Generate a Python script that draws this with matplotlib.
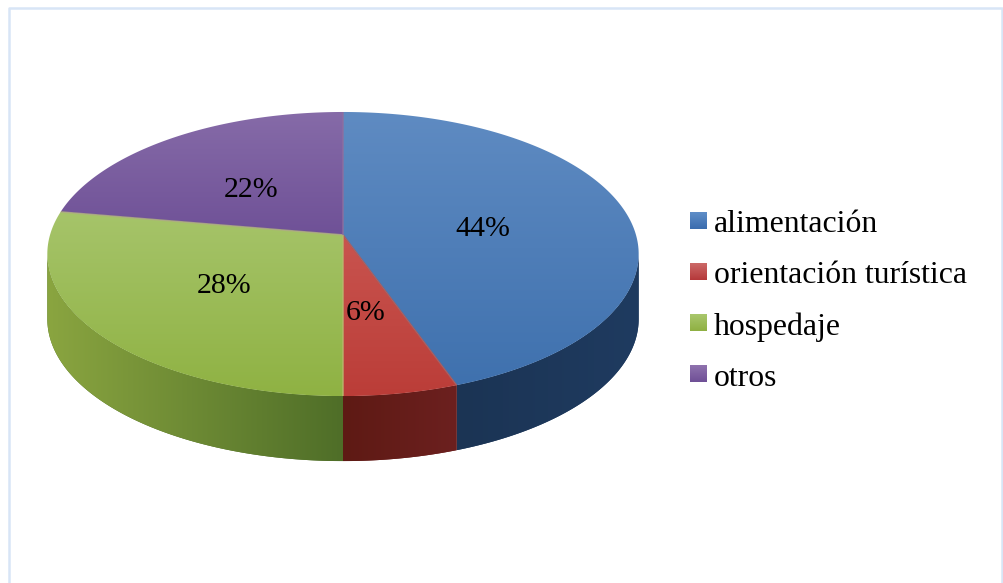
import numpy as np
import matplotlib
matplotlib.use('Agg')
from matplotlib import pyplot as plt
from matplotlib.colors import LinearSegmentedColormap
from matplotlib.patches import Polygon

plt.rcParams['font.family'] = ['Liberation Serif', 'DejaVu Serif']

categories = ['alimentación', 'orientación turística', 'hospedaje', 'otros']
values = [44.5, 5.5, 27.7, 22.3]
pct_labels = ['44%', '6%', '28%', '22%']

top_colors = [('#5f8bc2', '#3f71ae'), ('#c9544f', '#bb3d38'),
              ('#a6c46a', '#8fb243'), ('#866ba8', '#6f5197')]
wall_colors = [('#1b3454', '#1f3b60'), ('#5e1a14', '#6c201f'),
               ('#8aa540', '#4f6e28'), None]
legend_colors = [('#5f8ec8', '#3a6cae'), ('#cc6a68', '#b5383a'),
                 ('#a9c76d', '#8fb042'), ('#8f73ae', '#6f4f96')]
seam_colors = ['#a85a5a', '#b8b96e', '#aeb07c', '#8f6f9f']

label_pos = [(483, 229), (366, 313), (224, 286), (251, 190)]

cx, cy = 343, 235
a, b, k = 293, 139.5, 0.134
depth = 65
front_lo, front_hi = np.degrees(np.arccos(-k)), 360 - np.degrees(np.arccos(-k))


def rim(t1, t2):
    # angles clockwise from the top, perspective squeezed circle
    t = np.radians(np.linspace(t1, t2, 300))
    X, Y = np.sin(t), np.cos(t)
    return cx + a * X / (1 + k * Y), cy - b * Y / (1 + k * Y)


def shade(ax, xs, ys, colors, horizontal=False):
    pts = np.column_stack([xs, ys])
    cmap = LinearSegmentedColormap.from_list('c', colors)
    grad = np.linspace(0, 1, 256)
    grad = grad.reshape(1, -1) if horizontal else grad.reshape(-1, 1)
    im = ax.imshow(grad, cmap=cmap, aspect='auto', interpolation='bilinear',
                   extent=(xs.min(), xs.max(), ys.max(), ys.min()), zorder=2)
    poly = Polygon(pts, closed=True, transform=ax.transData, fc='none', ec='none')
    ax.add_patch(poly)
    im.set_clip_path(poly)


fig = plt.figure(figsize=(10.04, 5.83), dpi=100)
ax = fig.add_axes([0, 0, 1, 1])

angles = np.concatenate([[0], np.cumsum(values) * 3.6])

# frame, open at the bottom
ax.plot([9, 9, 1002, 1002], [583, 7.5, 7.5, 583], color='#d8e5f6', lw=1.8, zorder=1)

# side walls
for i in range(len(values)):
    t1, t2 = max(angles[i], front_lo), min(angles[i + 1], front_hi)
    if t1 >= t2 or wall_colors[i] is None:
        continue
    x, y = rim(t1, t2)
    xs = np.concatenate([x, x[::-1]])
    ys = np.concatenate([y, y[::-1] + depth])
    # flat copy below the gradient so no white shows at the joins
    ax.fill(xs, ys, fc=wall_colors[i][1], ec='none', zorder=1.5)
    shade(ax, xs, ys, wall_colors[i], horizontal=True)

# top faces
for i in range(len(values)):
    x, y = rim(angles[i], angles[i + 1])
    xs = np.concatenate([[cx], x])
    ys = np.concatenate([[cy], y])
    shade(ax, xs, ys, top_colors[i])

# pale seams between slices
for i in range(len(values)):
    x, y = rim(angles[i + 1], angles[i + 1])
    ax.plot([cx, x[0]], [cy, y[0]], color=seam_colors[i], lw=1.2, alpha=0.8,
            solid_capstyle='butt', zorder=3)

for i, lab in enumerate(pct_labels):
    ax.text(label_pos[i][0], label_pos[i][1], lab, fontsize=21.5, color='black',
            ha='center', va='center', zorder=5)

# legend
for i, name in enumerate(categories):
    y0 = 212 + 51 * i
    xs = np.array([690, 707, 707, 690])
    ys = np.array([y0, y0, y0 + 17, y0 + 17])
    shade(ax, xs, ys, legend_colors[i])
    ax.text(714, y0 + 12 + 0.5 * i, name, fontsize=22.9, color='black', ha='left',
            va='center', zorder=5)

ax.set_xlim(0, 1004)
ax.set_ylim(583, 0)
ax.axis('off')

plt.savefig('out.png', dpi=100)
